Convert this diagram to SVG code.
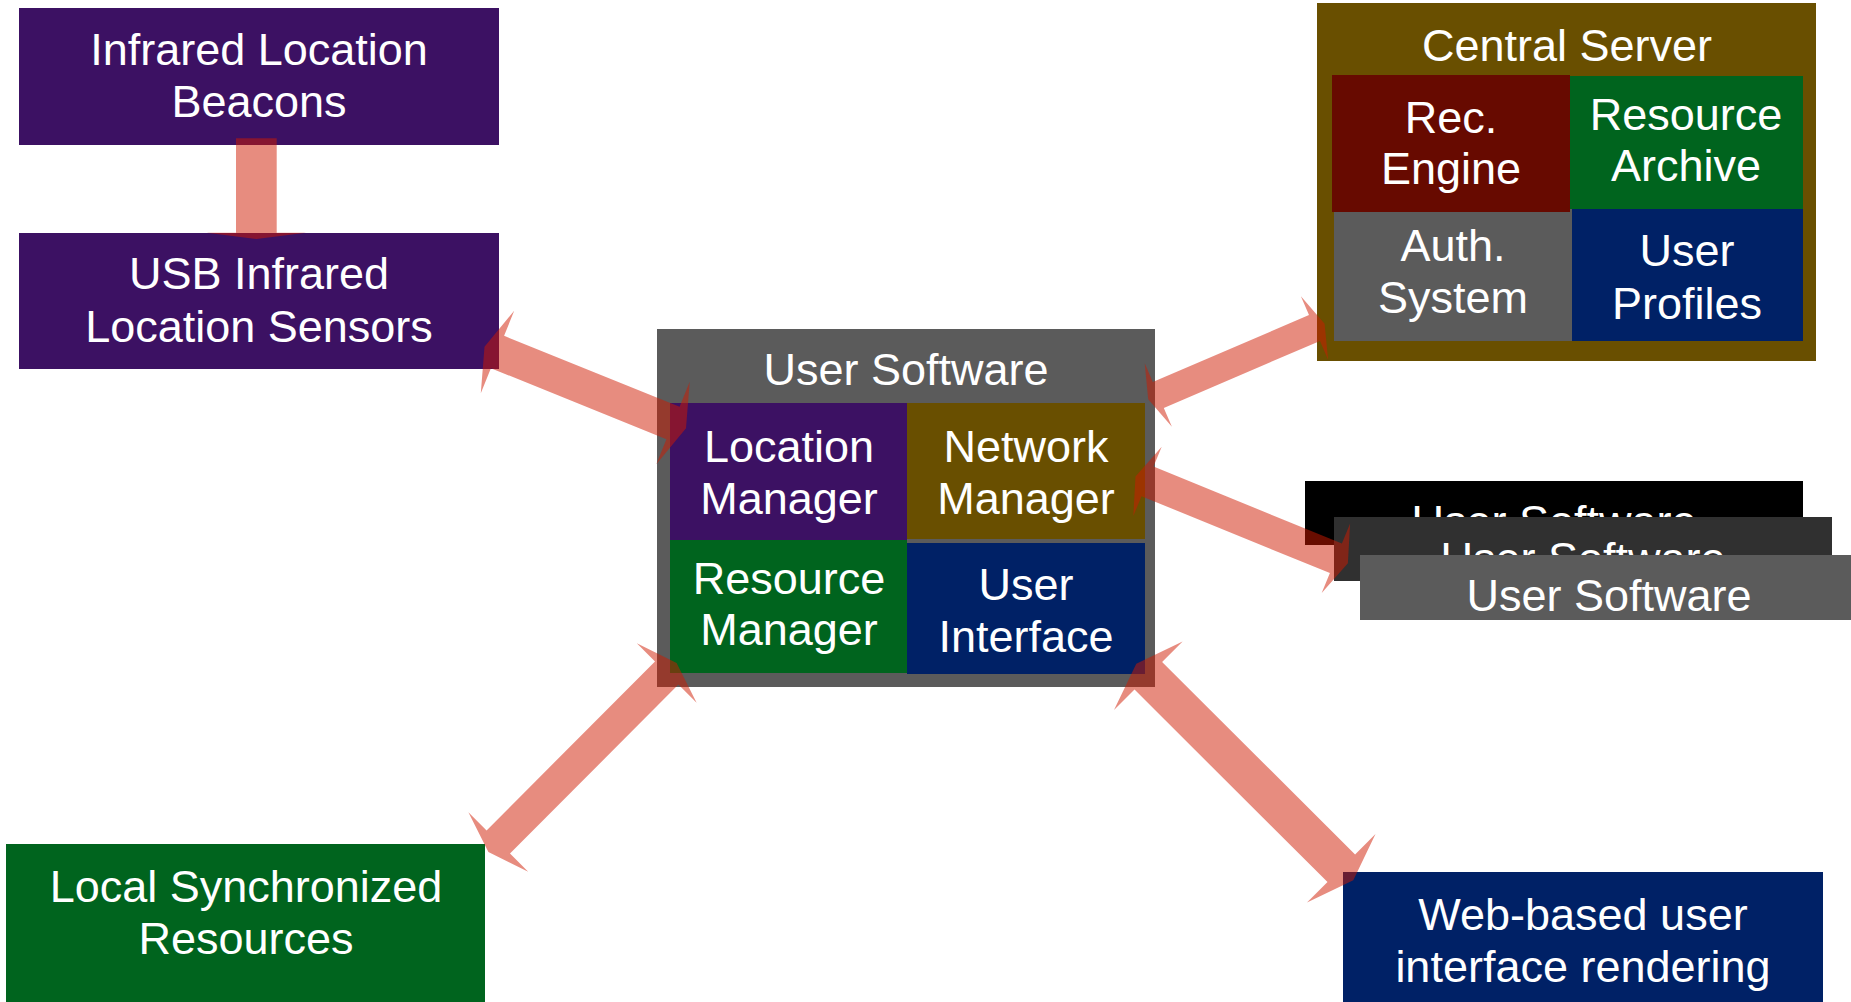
<svg xmlns="http://www.w3.org/2000/svg" width="1851" height="1002" viewBox="0 0 1851 1002">
<style>
text{font-family:"Liberation Sans",Arial,Helvetica,sans-serif;font-size:45px;fill:#ffffff;text-anchor:middle}
.purple{fill:#3c1163}
.olive{fill:#694f00}
.red{fill:#670a00}
.green{fill:#00641e}
.navy{fill:#002166}
.gray{fill:#5b5b5b}
.dark{fill:#303030}
.black{fill:#000000}
.arrow{fill:#cf1a00;fill-opacity:0.5}
</style>
<rect width="1851" height="1002" fill="#ffffff"/>

<g id="beacons">
<rect class="purple" x="19" y="8" width="480" height="137"/>
<text x="259" y="65">Infrared Location</text>
<text x="259" y="117">Beacons</text>
</g>

<g id="usb-sensors">
<rect class="purple" x="19" y="233" width="480" height="136"/>
<text x="259" y="289">USB Infrared</text>
<text x="259" y="342">Location Sensors</text>
</g>

<g id="user-software">
<rect class="gray" x="657" y="329" width="498" height="358"/>
<text x="906" y="385">User Software</text>
<rect class="purple" x="670" y="403" width="237" height="137"/>
<text x="789" y="462">Location</text>
<text x="789" y="514">Manager</text>
<rect class="olive" x="907" y="403" width="238" height="136"/>
<text x="1026" y="462">Network</text>
<text x="1026" y="514">Manager</text>
<rect class="green" x="670" y="540" width="237" height="133"/>
<text x="789" y="594">Resource</text>
<text x="789" y="645">Manager</text>
<rect class="navy" x="907" y="543" width="238" height="131"/>
<text x="1026" y="600">User</text>
<text x="1026" y="652">Interface</text>
</g>

<g id="central-server">
<rect class="olive" x="1317" y="3" width="499" height="358"/>
<text x="1567" y="61">Central Server</text>
<rect class="gray" x="1334" y="204" width="238" height="137"/>
<rect class="red" x="1332" y="75" width="238" height="137"/>
<text x="1451" y="133">Rec.</text>
<text x="1451" y="184">Engine</text>
<rect class="green" x="1570" y="76" width="233" height="133"/>
<text x="1686" y="130">Resource</text>
<text x="1686" y="181">Archive</text>
<text x="1453" y="261">Auth.</text>
<text x="1453" y="313">System</text>
<rect class="navy" x="1572" y="209" width="231" height="132"/>
<text x="1687" y="266">User</text>
<text x="1687" y="319">Profiles</text>
</g>

<g id="other-user-software">
<rect class="black" x="1305" y="481" width="498" height="64"/>
<text x="1554" y="537">User Software</text>
<rect class="dark" x="1334" y="517" width="498" height="64"/>
<text x="1583" y="574">User Software</text>
<rect class="gray" x="1360" y="555" width="498" height="65"/>
<text x="1609" y="611">User Software</text>
</g>

<g id="local-resources">
<rect class="green" x="6" y="844" width="479" height="170"/>
<text x="246" y="902">Local Synchronized</text>
<text x="246" y="954">Resources</text>
</g>

<g id="web-ui">
<rect class="navy" x="1343" y="872" width="480" height="140"/>
<text x="1583" y="930">Web-based user</text>
<text x="1583" y="982">interface rendering</text>
</g>

<g id="connectors">
<polygon class="arrow" points="236,138.3 276.7,138.3 276.7,232.7 306,232.7 256.5,239 206.7,232.7 236,232.7"/>
<polygon class="arrow" points="484.5,346.8 480.8,393.3 490.9,368.2 666.4,439.2 656.3,464.3 686,428.3 689.7,381.7 679.6,406.8 504.1,335.8 514.2,310.7"/>
<polygon class="arrow" points="1148.2,399.3 1171.9,426.7 1163.8,407.9 1320,340.9 1328.1,359.7 1324.6,323.7 1300.9,296.3 1309,315.1 1152.8,382.1 1144.7,363.3"/>
<polygon class="arrow" points="1135.5,476.5 1133.3,516.1 1141.5,496.2 1329.9,573.1 1321.7,593 1347.9,563.2 1350.1,523.6 1341.9,543.5 1153.5,466.6 1161.7,446.7"/>
<polygon class="arrow" points="488.4,851.9 528.2,871.8 510,853.6 678.4,684.6 696.6,702.8 676.6,663.1 636.8,643.2 655,661.4 486.6,830.4 468.4,812.2"/>
<polygon class="arrow" points="1136.3,663.8 1114,710.1 1134.5,689.6 1327.5,882.1 1307,902.6 1353.3,880.3 1375.5,834 1355.1,854.5 1162.1,662 1182.6,641.5"/>
</g>
</svg>
